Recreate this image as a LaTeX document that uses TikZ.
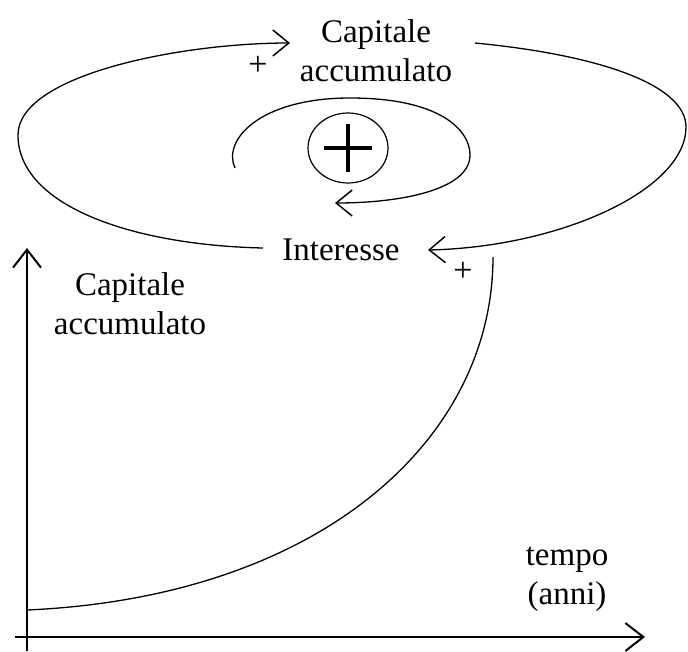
\documentclass[tikz,border=0pt]{standalone}
\usepackage{fontspec}
\setmainfont{Liberation Serif}
\usetikzlibrary{arrows.meta,shapes.geometric}
\begin{document}
\begin{tikzpicture}[x=1pt,y=-1pt,
  lbl/.style={font=\fontsize{33}{39}\selectfont, align=center, inner sep=0pt},
  pl/.style={font=\fontsize{34}{34}\selectfont, inner sep=0pt},
  loopline/.style={line width=1.3pt},
  link/.style={loopline, -{Straight Barb[length=16pt,width=26pt,line width=1.5pt]}},
  axis/.style={line width=2.2pt},
  axisarrow/.style={axis, -{Straight Barb[length=18pt,width=28pt,line width=2pt]}},
]
\useasboundingbox (0,0) rectangle (688,651);

% nodes
\node[lbl] (cap) at (376,51) {Capitale\\accumulato};
\node[lbl] (int) at (341,250) {Interesse};
\node[lbl] (ylab) at (130,304) {Capitale\\accumulato};
\node[lbl] (xlab) at (567,579) {tempo\\(anni)};
\node[draw, ellipse, line width=1.2pt, minimum width=80pt, minimum height=70pt, inner sep=0pt] (sym) at (348,148) {};
\node[pl] (p1) at (258,66) {+};
\node[pl] (p2) at (463,272) {+};

% plus sign in the loop symbol
\draw[line width=4pt] ([xshift=-24pt]sym.center) -- ([xshift=24pt]sym.center);
\draw[line width=4pt] ([yshift=-24pt]sym.center) -- ([yshift=24pt]sym.center);

% connector end points
\coordinate (capIn) at (290,43);
\coordinate (capOut) at (475,43);
\coordinate (intOut) at (263,248);
\coordinate (intIn) at (428,250);
\coordinate (innerStart) at (235,168);
\coordinate (innerEnd) at (335,203);
\coordinate (yTop) at (27,248);
\coordinate (yBot) at (27,651);
\coordinate (xLeft) at (15,637);
\coordinate (xRight) at (645,637);
\coordinate (cStart) at (27,610);
\coordinate (cEnd) at (493,257);

% outer loop: Interesse -> Capitale
\draw[link] (intOut) .. controls (130,245) and (18,205) .. (18,135)
  .. controls (18,75) and (180,43) .. (capIn);
% outer loop: Capitale -> Interesse
\draw[link] (capOut) .. controls (600,55) and (686,85) .. (686,127)
  .. controls (686,190) and (560,247) .. (intIn);

% inner loop arrow
\draw[link] (innerStart) .. controls (222,140) and (260,98) .. (350,98)
  .. controls (440,98) and (470,130) .. (470,155)
  .. controls (470,190) and (400,203) .. (innerEnd);

% axes
\draw[axisarrow] (yBot) -- (yTop);
\draw[axisarrow] (xLeft) -- (xRight);

% exponential growth curve
\draw[loopline] (cStart) .. controls (320,597) and (493,440) .. (cEnd);
\end{tikzpicture}
\end{document}
